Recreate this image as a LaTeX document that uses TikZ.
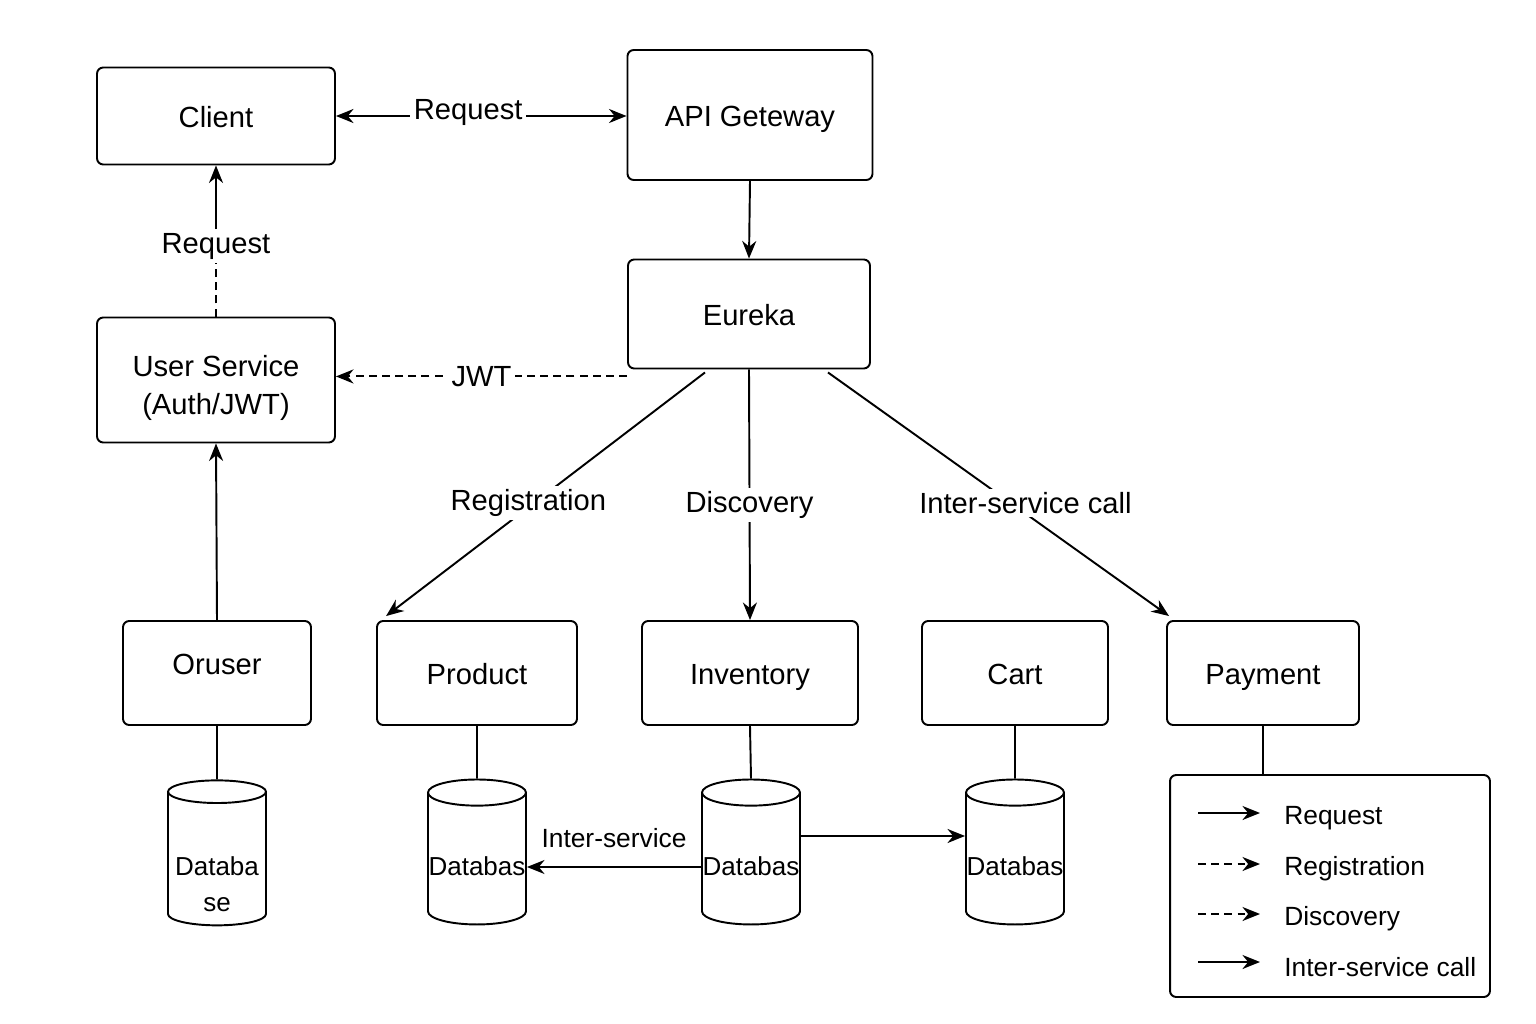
\documentclass[tikz,border=0pt]{standalone}
\usepackage{fontspec}
\setmainfont{Liberation Sans}
\usetikzlibrary{arrows.meta,shapes.geometric}
\tikzset{
  box/.style={draw, rounded corners=3.5pt, line width=1.1pt, font=\fontsize{16.6}{22}\selectfont, align=center, text height=14pt, text depth=1pt},
  db/.style={draw, cylinder, shape border rotate=90, aspect=0.27, line width=1.1pt, minimum width=1.96cm, minimum height=2.9cm, inner sep=0pt, font=\fontsize{14.8}{20.4}\selectfont, align=center, text height=20pt, text depth=1.2pt},
  lbl/.style={fill=white, inner sep=2pt, font=\fontsize{16.6}{20}\selectfont},
  arr/.style={->, line width=1.1pt},
  link/.style={line width=1.1pt},
  dsh/.style={dash pattern=on 4.5pt off 3pt},
}
\begin{document}
\begin{tikzpicture}[x=0.02cm,y=-0.02cm, >={Stealth[length=10pt,width=8pt]}]
  \useasboundingbox (0,0) rectangle (1536,1024);
  % top row
  \node[box, minimum width=4.76cm, minimum height=1.94cm] (client) at (216,116) {Client};
  \node[box, minimum width=4.9cm, minimum height=2.6cm] (api) at (750,115) {API Geteway};
  \node[box, minimum width=4.84cm, minimum height=2.18cm] (eureka) at (749,314) {Eureka};
  \node[box, minimum width=4.76cm, minimum height=2.5cm, text height=40pt, text depth=0.4pt] (usr) at (216,380) {User Service\\(Auth/JWT)};
  % services
  \node[box, minimum width=3.76cm, minimum height=2.08cm, text depth=12.8pt] (oruser) at (217,673) {Oruser};
  \node[box, minimum width=4cm, minimum height=2.08cm] (product) at (477,673) {Product};
  \node[box, minimum width=4.32cm, minimum height=2.08cm] (inventory) at (750,673) {Inventory};
  \node[box, minimum width=3.72cm, minimum height=2.08cm] (cart) at (1015,673) {Cart};
  \node[box, minimum width=3.84cm, minimum height=2.08cm] (payment) at (1263,673) {Payment};
  % databases
  \node[db, text height=60pt, text depth=0.6pt] (db1) at (217,859) {Databa\\se};
  \node[db] (db2) at (477,859) {Databas};
  \node[db] (db3) at (751,859) {Databas};
  \node[db] (db4) at (1015,859) {Databas};
  % connectors
  \draw[arr, <->] (client.east) -- node[lbl, pos=0.455, yshift=2pt] {Request} (client.east -| api.west);
  \draw[arr] (api.south) -- (eureka.north);
  \node[lbl] (reqlbl) at (216,246) {Request};
  \draw[link, dsh] (usr.north) -- (reqlbl.south);
  \draw[arr] (reqlbl.north) -- (client.south);
  \draw[arr, dsh] ([yshift=-0.14cm]eureka.south west) -- node[lbl] {JWT} ([yshift=-0.14cm]eureka.south west -| usr.east);
  \draw[arr] ([xshift=-0.88cm,yshift=-0.06cm]eureka.south) -- node[lbl, pos=0.535, xshift=-0.12cm] {Registration} ([xshift=0.2cm,yshift=0.08cm]product.north west);
  \draw[arr] (eureka.south) -- node[lbl, pos=0.54] {Discovery} (inventory.north);
  \draw[arr] ([xshift=1.58cm,yshift=-0.06cm]eureka.south) -- node[lbl, pos=0.535, xshift=0.3cm] {Inter-service call} ([xshift=0.06cm,yshift=0.08cm]payment.north west);
  \draw[arr] (oruser.north) -- (usr.south);
  \draw[link] (oruser.south) -- (db1.north);
  \draw[link] (product.south) -- (db2.north);
  \draw[link] (inventory.south) -- (db3.north);
  \draw[link] (cart.south) -- (db4.north);
  \draw[arr] ([yshift=-0.16cm]db3.west) -- node[above=7pt, font=\fontsize{15}{18}\selectfont] {Inter-service} ([yshift=-0.16cm]db3.west -| db2.east);
  \draw[arr] ([yshift=0.46cm]db3.east) -- ([yshift=0.46cm]db3.east -| db4.west);
  % legend
  \node[box, minimum width=6.4cm, minimum height=4.44cm] (legend) at (1330,886) {};
  \draw[link] (payment.south) -- (legend.north -| payment.south);
  \foreach \y/\txt/\sty [count=\i] in {818/Request/solid, 869/Registration/dsh, 919/Discovery/dsh, 967/Inter-service call/solid} {
    \node[anchor=west, inner sep=0pt, font=\fontsize{15}{18}\selectfont] (lg\i) at (1284,\y) {\txt};
    \draw[arr, \sty] ([xshift=-1.72cm,yshift=0.1cm]lg\i.west) -- ([xshift=-0.48cm,yshift=0.1cm]lg\i.west);
  }
\end{tikzpicture}
\end{document}
